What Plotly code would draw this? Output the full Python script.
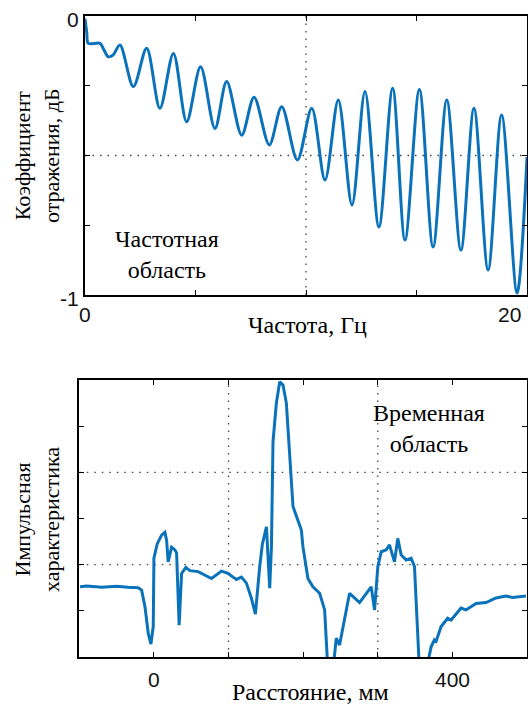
import plotly.graph_objects as go

# ---------------- data: frequency domain ----------------
freq_hz = [0.00, 0.08, 0.15, 0.68, 0.85, 1.05, 1.27, 1.58, 2.19, 2.79, 3.39, 4.00, 4.60,
           5.23, 5.88, 6.41, 7.09, 7.65, 8.34, 8.90, 9.61, 10.26, 10.86, 11.46, 12.08, 12.67,
           13.30, 13.92, 14.48, 15.13, 15.75, 16.37, 17.01, 17.60, 18.24, 18.85, 19.55, 20.00]
refl_db = [-0.01, -0.06, -0.098, -0.098, -0.12, -0.146, -0.14, -0.104, -0.253, -0.116,
           -0.331, -0.134, -0.379, -0.182, -0.403, -0.235, -0.427, -0.291, -0.462, -0.325,
           -0.516, -0.331, -0.588, -0.301, -0.677, -0.271, -0.756, -0.259, -0.803, -0.263,
           -0.828, -0.301, -0.839, -0.331, -0.910, -0.355, -0.993, -0.505]

freq_tickvals = [0, 5, 10, 15, 20]
freq_ticktext = ["0", "", "", "", "20"]
refl_tickvals = [0, -0.25, -0.5, -0.75, -1]
refl_ticktext = ["0", "", "", "", "-1"]
freq_grid = [10]
refl_grid = [-0.5]

# ---------------- data: time domain ----------------
dist_mm = [-99, -90, -70, -50, -35, -21, -16.5, -12, -7.6, -4, -0.9, 0, 4.4, 10.3, 14.7, 17,
           19.1, 23.7, 28.1, 30.4, 33.8, 37.1, 42.8, 48.2, 59.3, 66, 77.2, 90.6, 99.4, 106.1,
           110.6, 117.3, 124, 130.7, 136, 141.8, 145.4, 150.8, 155.2, 157.5, 159.6, 164.1,
           168.6, 173, 177.5, 186.4, 197.6, 199.7, 206.4, 213.1, 222.1, 228.8, 233.2, 239.9,
           244.4, 248.8, 262.2, 275.6, 291.2, 295.7, 300.1, 304.6, 311.3, 315.7, 322.4, 326.8,
           331.4, 338.1, 344.7, 349.2, 355.9, 364.8, 371.5, 375.9, 378.2, 384.9, 393.7, 398.3,
           411.6, 418.3, 431.7, 445.1, 458.5, 471.8, 480.7, 498.6]
impulse = [-1.48, -1.46, -1.49, -1.47, -1.49, -1.50, -1.55, -1.91, -2.49, -2.72, -2.34, -0.86,
           -0.55, -0.36, -0.30, -0.47, -0.94, -0.62, -0.68, -0.75, -2.31, -1.19, -1.06, -1.13,
           -1.15, -1.21, -1.30, -1.14, -1.19, -1.27, -1.32, -1.27, -1.40, -1.73, -2.07, -1.04,
           -0.55, -0.18, -1.51, -0.61, 1.66, 2.50, 2.96, 2.89, 2.50, 0.26, -0.25, -0.61, -1.30,
           -1.48, -1.62, -1.98, -3.3, -3.3, -2.59, -2.74, -1.62, -1.82, -1.48, -1.98, -1.04,
           -0.72, -0.68, -0.57, -0.94, -0.43, -0.79, -0.90, -0.86, -1.04, -3.3, -3.3, -2.78,
           -2.63, -2.66, -2.34, -2.16, -2.20, -1.94, -1.98, -1.84, -1.82, -1.72, -1.68, -1.71,
           -1.68]

dist_tickvals = [0, 100, 200, 300, 400]
dist_ticktext = ["0", "", "", "", "400"]
imp_tickvals = [-3, -2, -1, 0, 1, 2, 3]
dist_grid = [100, 300]
imp_grid = [-1, 1]

W, H = 528, 711
BLUE = "#0a72ba"
SERIF = "Liberation Serif"
SANS = "Liberation Sans"


def px(x):
    return min(x / W, 1)


def py(y):
    return 1 - y / H


fig = go.Figure()
fig.add_trace(go.Scatter(x=freq_hz, y=refl_db, mode="lines",
                         line=dict(color=BLUE, width=3, shape="spline", smoothing=0.9),
                         xaxis="x", yaxis="y", showlegend=False))
fig.add_trace(go.Scatter(x=dist_mm, y=impulse, mode="lines",
                         line=dict(color=BLUE, width=3), xaxis="x2", yaxis="y2",
                         showlegend=False))

axis_common = dict(showline=True, linecolor="black", linewidth=1.6, mirror="ticks",
                   ticks="inside", ticklen=5, tickwidth=1.2, tickcolor="black",
                   showgrid=False, zeroline=False, automargin=False,
                   showticklabels=False, tickmode="array")

fig.update_layout(
    width=W, height=H, margin=dict(l=0, r=0, t=0, b=0, autoexpand=False),
    paper_bgcolor="white", plot_bgcolor="white",
    xaxis=dict(domain=[px(85), px(527)], range=[0, 20], tickvals=freq_tickvals,
               anchor="y", **axis_common),
    yaxis=dict(domain=[py(295), py(16)], range=[-1, 0], tickvals=refl_tickvals,
               anchor="x", **axis_common),
    xaxis2=dict(domain=[px(79.3), px(527)], range=[-100, 500], tickvals=dist_tickvals,
                anchor="y2", **axis_common),
    yaxis2=dict(domain=[py(657), py(380)], range=[-3, 3], tickvals=imp_tickvals,
                anchor="x2", **axis_common),
)

# dotted grid lines
grid_line = dict(color="#444", width=1.3, dash="1.5px,6px")
for g in freq_grid:
    fig.add_shape(type="line", xref="x", yref="y domain", x0=g, x1=g, y0=0, y1=1,
                  line=grid_line, layer="below")
for g in refl_grid:
    fig.add_shape(type="line", xref="x domain", yref="y", x0=0, x1=1, y0=g, y1=g,
                  line=grid_line, layer="below")
for g in dist_grid:
    fig.add_shape(type="line", xref="x2", yref="y2 domain", x0=g, x1=g, y0=0, y1=1,
                  line=grid_line, layer="below")
for g in imp_grid:
    fig.add_shape(type="line", xref="x2 domain", yref="y2", x0=0, x1=1, y0=g, y1=g,
                  line=grid_line, layer="below")

# tick labels (as annotations so that edge labels stay inside the page)
tick_font = dict(family=SANS, size=21, color="#111")
last_f = len(freq_tickvals) - 1
for i, (v, t) in enumerate(zip(freq_tickvals, freq_ticktext)):
    if t:
        fig.add_annotation(xref="x", yref="paper", x=v, y=py(315), text=t,
                           xanchor="right" if i == last_f else "center",
                           xshift=-4 if i == last_f else 0,
                           yanchor="middle", showarrow=False, font=tick_font)
for v, t in zip(refl_tickvals, refl_ticktext):
    if t:
        fig.add_annotation(xref="paper", yref="y", x=px(81), y=v, yshift=-3, text=t,
                           xanchor="right", yanchor="middle", showarrow=False,
                           font=tick_font)
for v, t in zip(dist_tickvals, dist_ticktext):
    if t:
        fig.add_annotation(xref="x2", yref="paper", x=v, y=py(679), text=t,
                           xanchor="center", yanchor="middle", showarrow=False,
                           font=tick_font)

serif_font = dict(family=SERIF, size=24, color="black")
ytitle_font = dict(family=SERIF, size=22, color="black")
ann = [
    dict(x=px(307), y=py(325), text="Частота, Гц", font=serif_font),
    dict(x=px(310), y=py(692), text="Расстояние, мм", font=serif_font),
    dict(x=px(37), y=py(156), text="Коэффициент<br>отражения, дБ", textangle=-90,
         font=ytitle_font),
    dict(x=px(37), y=py(520), text="Импульсная<br>характеристика", textangle=-90,
         font=ytitle_font),
    dict(x=px(167), y=py(254), text="Частотная<br>область", font=serif_font),
    dict(x=px(429), y=py(428), text="Временная<br>область", font=serif_font),
]
for a in ann:
    fig.add_annotation(xref="paper", yref="paper", showarrow=False,
                       xanchor="center", yanchor="middle", **a)

fig.write_html(
    "out.html",
    config={"displayModeBar": False},
    post_script="document.body.style.margin='0';document.body.style.overflow='hidden';"
                "document.documentElement.style.overflow='hidden';",
)
